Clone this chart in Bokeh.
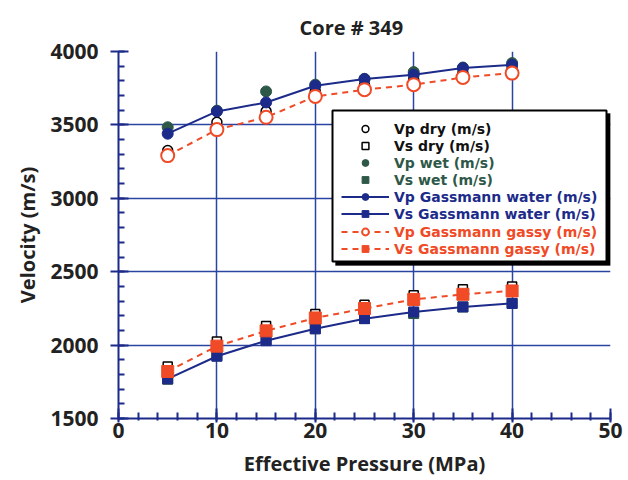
from bokeh.plotting import figure
from bokeh.models import Legend, LegendItem, BoxAnnotation, Range1d, FixedTicker
from bokeh.embed import file_html
from bokeh.resources import INLINE

pressure = [5, 10, 15, 20, 25, 30, 35, 40]
vp_dry = [3325, 3518, 3592, 3728, 3772, 3808, 3853, 3885]
vs_dry = [1855, 2025, 2130, 2212, 2275, 2340, 2380, 2400]
vp_wet = [3484, 3597, 3728, 3774, 3814, 3860, 3891, 3921]
vs_wet = [1768, 1928, 2032, 2112, 2182, 2215, 2260, 2284]
vp_gw = [3440, 3592, 3653, 3767, 3812, 3842, 3887, 3909]
vs_gw = [1770, 1924, 2030, 2111, 2180, 2226, 2260, 2284]
vp_gg = [3291, 3468, 3552, 3694, 3740, 3774, 3823, 3853]
vs_gg = [1820, 1993, 2097, 2185, 2249, 2311, 2346, 2369]

x_ticks = [0, 10, 20, 30, 40, 50]
y_ticks = [1500, 2000, 2500, 3000, 3500, 4000]

title_text = "Core # 349"
labels = ["Vp dry (m/s)", "Vs dry (m/s)", "Vp wet (m/s)", "Vs wet (m/s)",
          "Vp Gassmann water (m/s)", "Vs Gassmann water (m/s)",
          "Vp Gassmann gassy (m/s)", "Vs Gassmann gassy (m/s)"]

NAVY = "#1c2b8a"
GRID = "#2a45a0"
ORANGE = "#f04a26"
GREEN = "#2e5848"
FONT = "Open Sans"
LFONT = "DejaVu Sans"

p = figure(width=628, height=480, output_backend="svg", toolbar_location=None,
           x_range=Range1d(0, 50), y_range=Range1d(1500, 4000),
           min_border_left=118, min_border_right=18, min_border_top=50,
           min_border_bottom=62, title=title_text)
p.outline_line_color = None
p.background_fill_color = "white"

p.title.text_font = FONT
p.title.text_font_size = "20px"
p.title.text_font_style = "bold"
p.title.text_line_height = 0.9
p.title.align = "left"
p.title.offset = 181
p.title.standoff = 22
p.title.text_color = "#222222"

for ax in (p.xaxis, p.yaxis):
    ax.axis_line_color = NAVY
    ax.axis_line_width = 2
    ax.major_tick_line_color = NAVY
    ax.major_tick_line_width = 2
    ax.minor_tick_line_color = NAVY
    ax.minor_tick_line_width = 2
    ax.major_label_text_font = FONT
    ax.major_label_text_font_size = "21px"
    ax.major_label_text_font_style = "bold"
    ax.major_label_text_color = "#222222"
    ax.axis_label_text_font = FONT
    ax.axis_label_text_font_size = "20px"
    ax.axis_label_text_font_style = "bold"
    ax.axis_label_text_color = "#222222"

p.xaxis.ticker = FixedTicker(ticks=x_ticks, minor_ticks=list(range(0, 51, 2)))
p.yaxis.ticker = FixedTicker(ticks=y_ticks, minor_ticks=list(range(1500, 4001, 100)))
p.xaxis.major_tick_in = 10
p.xaxis.major_tick_out = 4
p.xaxis.minor_tick_in = 6
p.xaxis.minor_tick_out = 2
p.yaxis.major_tick_in = 10
p.yaxis.major_tick_out = 8
p.yaxis.minor_tick_in = 6
p.yaxis.minor_tick_out = 0
p.xaxis.axis_label = "Effective Pressure (MPa)"
p.yaxis.axis_label = "Velocity (m/s)"
p.xaxis.major_label_standoff = 0
p.yaxis.major_label_standoff = 12
p.xaxis.axis_label_standoff = 9
p.yaxis.axis_label_standoff = 6

p.xgrid.grid_line_color = GRID
p.ygrid.grid_line_color = GRID
p.xgrid.grid_line_width = 1.5
p.ygrid.grid_line_width = 1.5

r_vp_dry = p.scatter(pressure, vp_dry, marker="circle", size=10, fill_color="white",
                     line_color="black", line_width=1.5)
r_vs_dry = p.scatter(pressure, vs_dry, marker="square", size=9, fill_color="white",
                     line_color="black", line_width=1.5)
r_vp_wet = p.scatter(pressure, vp_wet, marker="circle", size=11, fill_color=GREEN,
                     line_color=GREEN)
r_vs_wet = p.scatter(pressure, vs_wet, marker="square", size=10, fill_color=GREEN,
                     line_color=GREEN)

l_vp_gw = p.line(pressure, vp_gw, line_color=NAVY, line_width=2)
m_vp_gw = p.scatter(pressure, vp_gw, marker="circle", size=11, fill_color=NAVY, line_color=NAVY)
l_vs_gw = p.line(pressure, vs_gw, line_color=NAVY, line_width=2)
m_vs_gw = p.scatter(pressure, vs_gw, marker="square", size=10, fill_color=NAVY, line_color=NAVY)

l_vp_gg = p.line(pressure, vp_gg, line_color=ORANGE, line_width=2, line_dash="6 5")
m_vp_gg = p.scatter(pressure, vp_gg, marker="circle", size=13, fill_color="white",
                    line_color=ORANGE, line_width=2)
l_vs_gg = p.line(pressure, vs_gg, line_color=ORANGE, line_width=2, line_dash="6 5")
m_vs_gg = p.scatter(pressure, vs_gg, marker="square", size=12, fill_color=ORANGE,
                    line_color=ORANGE)

# legend frame with shadow (canvas pixels)
shadow = BoxAnnotation(left=335, right=610, top=113, bottom=265,
                       left_units="canvas", right_units="canvas", top_units="canvas",
                       bottom_units="canvas", fill_color="black", fill_alpha=1,
                       line_color="black")
frame_box = BoxAnnotation(left=332, right=606, top=110, bottom=261,
                          left_units="canvas", right_units="canvas", top_units="canvas",
                          bottom_units="canvas", fill_color="white", fill_alpha=1,
                          line_color="black", line_width=2, line_alpha=1)
p.add_layout(shadow)
p.add_layout(frame_box)

entries = [
    (labels[0], [r_vp_dry], "#111111"),
    (labels[1], [r_vs_dry], "#111111"),
    (labels[2], [r_vp_wet], GREEN),
    (labels[3], [r_vs_wet], GREEN),
    (labels[4], [l_vp_gw, m_vp_gw], NAVY),
    (labels[5], [l_vs_gw, m_vs_gw], NAVY),
    (labels[6], [l_vp_gg, m_vp_gg], ORANGE),
    (labels[7], [l_vs_gg, m_vs_gg], ORANGE),
]
row_bottoms = [281, 264, 247, 230, 213, 196, 178, 161]
for (lab, rends, color), vy in zip(entries, row_bottoms):
    leg = Legend(items=[LegendItem(label=lab, renderers=rends)],
                 location=(223, vy), orientation="vertical",
                 background_fill_alpha=0, border_line_color=None,
                 padding=0, margin=0, spacing=0,
                 glyph_width=48, glyph_height=17, label_height=17,
                 label_standoff=5,
                 label_text_font=LFONT, label_text_font_size="14px",
                 label_text_font_style="bold", label_text_color=color)
    p.add_layout(leg)

open("out.html", "w").write(file_html(p, INLINE))
